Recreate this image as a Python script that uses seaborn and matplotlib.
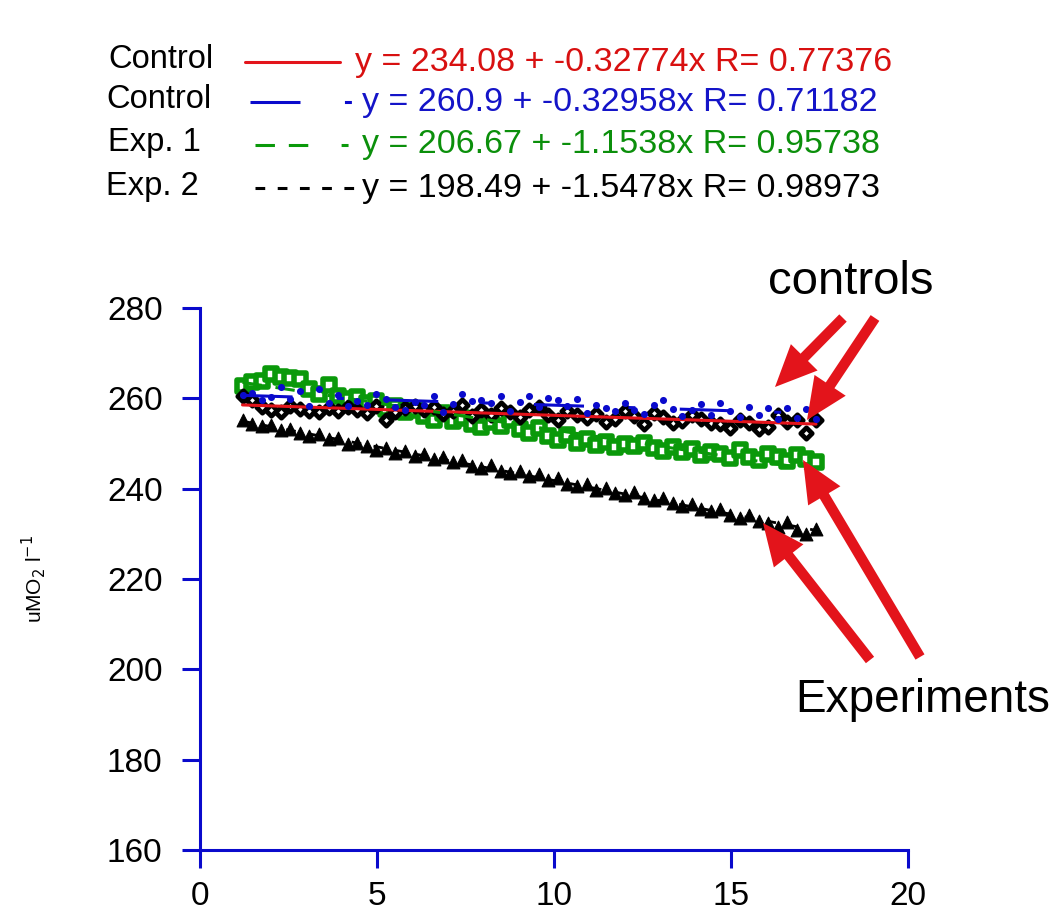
import matplotlib.pyplot as plt
import numpy as np
import pandas as pd
import seaborn as sns

# time points (x)
t = [1.20, 1.47, 1.74, 2.01, 2.28, 2.55, 2.82, 3.09, 3.36, 3.63,
     3.90, 4.17, 4.44, 4.71, 4.98, 5.25, 5.52, 5.79, 6.06, 6.33,
     6.60, 6.87, 7.14, 7.41, 7.68, 7.95, 8.22, 8.49, 8.76, 9.03,
     9.30, 9.57, 9.84, 10.11, 10.38, 10.65, 10.92, 11.19, 11.46, 11.73,
     12.00, 12.27, 12.54, 12.81, 13.08, 13.35, 13.62, 13.89, 14.16, 14.43,
     14.70, 14.97, 15.24, 15.51, 15.78, 16.05, 16.32, 16.59, 16.86, 17.13,
     17.40]

# Control (black diamonds, red fit)
control1 = [260.5, 259.6, 258.1, 257.3, 257.0, 258.2, 257.6, 257.1, 256.9, 257.8,
            257.2, 258.0, 257.3, 256.8, 258.4, 255.2, 256.9, 257.9, 258.3, 257.4,
            258.1, 256.6, 257.2, 258.6, 256.0, 257.5, 256.3, 257.8, 256.9, 255.8,
            257.4, 258.0, 256.2, 255.3, 257.1, 256.4, 255.7, 256.6, 254.8, 255.4,
            257.2, 256.1, 254.3, 256.8, 255.9, 254.5, 255.0, 256.3, 255.4, 254.6,
            254.2, 253.4, 255.1, 254.6, 253.1, 253.6, 256.2, 254.7, 255.2, 252.4,
            255.3]

# Control (blue dots, blue fit)
control2 = [260.7, 261.2, 259.6, 260.3, 262.5, 259.9, 261.7, 258.3, 262.1, 259.0,
            260.8, 258.2, 259.4, 258.6, 260.9, 259.8, 258.0, 257.4, 259.1, 258.5,
            260.4, 256.9, 258.7, 261.0, 259.4, 259.7, 258.9, 260.6, 257.2, 259.2,
            260.4, 258.1, 260.1, 259.6, 258.3, 259.9, 256.7, 258.6, 257.8, 257.1,
            258.9, 257.3, 256.5, 258.5, 259.7, 257.6, 256.0, 257.4, 258.8, 256.3,
            258.9, 257.1, 255.8, 258.0, 256.4, 257.8, 255.4, 257.9, 255.7, 257.6,
            255.5]

# Exp. 1 (green squares)
exp1 = [262.8, 263.5, 263.9, 265.3, 264.8, 264.6, 264.2, 262.1, 261.0, 262.9,
        260.5, 259.8, 260.3, 258.9, 259.4, 257.6, 258.2, 256.9, 257.4, 256.1,
        255.3, 256.8, 254.9, 255.7, 254.2, 253.6, 254.8, 253.9, 255.3, 253.1,
        252.4, 253.5, 251.6, 250.8, 251.9, 250.2, 250.9, 249.6, 250.3, 249.2,
        249.8, 249.4, 250.1, 248.9, 248.3, 249.2, 248.0, 248.7, 247.4, 248.2,
        247.6, 246.8, 248.6, 247.1, 246.3, 247.7, 246.9, 246.2, 247.4, 246.5,
        246.0]

# Exp. 2 (black triangles)
exp2 = [255.3, 254.2, 253.8, 254.0, 252.9, 253.1, 252.4, 251.6, 252.2, 250.9,
        251.3, 249.8, 250.2, 249.4, 248.6, 249.1, 247.9, 248.3, 247.2, 247.6,
        246.5, 246.9, 245.8, 246.3, 245.1, 244.6, 245.2, 244.0, 243.5, 243.9,
        242.8, 243.2, 241.9, 242.3, 241.0, 240.5, 241.1, 239.8, 240.2, 239.1,
        238.7, 239.3, 238.0, 237.4, 237.9, 236.8, 236.2, 236.7, 235.5, 235.0,
        235.4, 234.2, 233.6, 234.1, 232.9, 232.3, 231.5, 232.6, 230.8, 229.9,
        231.0]

legend_names = ['Control', 'Control', 'Exp. 1', 'Exp. 2']
legend_eqs = ['y = 234.08 + -0.32774x R= 0.77376',
              'y = 260.9 + -0.32958x R= 0.71182',
              'y = 206.67 + -1.1538x R= 0.95738',
              'y = 198.49 + -1.5478x R= 0.98973']

df = pd.DataFrame({'t': t, 'c1': control1, 'c2': control2, 'e1': exp1, 'e2': exp2})

sns.set_style('ticks')
plt.rcParams['font.family'] = ['Liberation Sans', 'DejaVu Sans']
plt.rcParams['lines.scale_dashes'] = False
plt.rcParams['text.color'] = 'black'
plt.rcParams['axes.labelcolor'] = 'black'

blue = '#0a0acc'
red = '#e3141b'
green = '#0a990a'
txt_colors = ['#d81010', '#1414c8', '#0b8f0b', 'black']

# dash patterns in points
ls_red = '-'
ls_blue = (0, (36, 32, 5, 32))
ls_green = (0, (14, 10, 14, 24, 5, 10))
ls_black = (0, (7, 9))
line_styles = [(red, ls_red), (blue, ls_blue), (green, ls_green), ('black', ls_black)]

fig = plt.figure(figsize=(10.55, 9.19), dpi=100)
ax = fig.add_axes([0.1896, 0.0751, 0.6711, 0.5898])

# markers
sns.scatterplot(data=df, x='t', y='e2', marker='^', s=85, color='black', edgecolor='black',
                linewidth=0.8, ax=ax, zorder=3)
sns.scatterplot(data=df, x='t', y='e1', marker='s', s=70, color='white', edgecolor=green,
                linewidth=4.0, ax=ax, zorder=3)
sns.scatterplot(data=df, x='t', y='c1', marker='D', s=34, color='white', edgecolor='black',
                linewidth=3.4, ax=ax, zorder=4)
sns.scatterplot(data=df, x='t', y='c2', marker='o', s=26, color=blue, edgecolor=blue,
                linewidth=0, ax=ax, zorder=6)

# fit lines
sns.regplot(data=df, x='t', y='c1', scatter=False, ci=None, truncate=True, ax=ax,
            line_kws=dict(color=red, lw=2.2, linestyle=ls_red, zorder=5))
sns.regplot(data=df, x='t', y='c2', scatter=False, ci=None, truncate=True, ax=ax,
            line_kws=dict(color=blue, lw=2.2, linestyle=ls_blue, zorder=5))
sns.regplot(data=df, x='t', y='e1', scatter=False, ci=None, truncate=True, ax=ax,
            line_kws=dict(color=green, lw=2.2, linestyle=ls_green, zorder=5))
sns.regplot(data=df, x='t', y='e2', scatter=False, ci=None, truncate=True, ax=ax,
            line_kws=dict(color='black', lw=2.0, linestyle=ls_black, zorder=5))

ax.set_xlim(0, 20)
ax.set_ylim(160, 280)
ax.set_xticks([0, 5, 10, 15, 20])
ax.set_yticks([160, 180, 200, 220, 240, 260, 280])
sns.despine(ax=ax)
for side in ['left', 'bottom']:
    ax.spines[side].set_color(blue)
    ax.spines[side].set_linewidth(2.2)
ax.tick_params(axis='both', length=13, width=2.2, color=blue, labelsize=24, labelcolor='black')
ax.tick_params(axis='y', pad=14)
ax.tick_params(axis='x', pad=9)
ax.set_xlabel('')
ax.set_ylabel(r'uMO$_2$ l$^{-1}$', fontsize=15, color='black')
ax.yaxis.set_label_coords(-0.215, 0.5)

# overlay in pixel coordinates for legend, arrows and notes
ov = fig.add_axes([0, 0, 1, 1], zorder=5)
ov.set_xlim(0, 1055)
ov.set_ylim(919, 0)
ov.axis('off')
ov.patch.set_alpha(0)

rows_y = [62, 102, 145, 188]
name_x = [108, 106, 108, 106]
eq_x = [355, 362, 362, 362]
line_x = [(245, 340), (250, 352), (255, 350), (255, 355)]
for i in range(4):
    ov.text(name_x[i], rows_y[i] - 2, legend_names[i], fontsize=23.5, va='center', ha='left',
            color='black')
    c, ls = line_styles[i]
    ov.plot(line_x[i], [rows_y[i], rows_y[i]], color=c, linestyle=ls, lw=2.2)
    ov.text(eq_x[i], rows_y[i], legend_eqs[i], fontsize=24.5, va='center', ha='left',
            color=txt_colors[i])

ov.text(768, 282, 'controls', fontsize=34, va='center', ha='left', color='black')
ov.text(795, 700, 'Experiments', fontsize=33, va='center', ha='left', color='black')

arrows = [((843, 318), (775, 387)), ((875, 318), (807, 420)),
          ((870, 660), (763, 523)), ((920, 657), (803, 460))]
for tail, tip in arrows:
    ov.annotate('', xy=tip, xytext=tail,
                arrowprops=dict(facecolor=red, edgecolor='none', width=7.5,
                                headwidth=27, headlength=30, shrink=0))

plt.savefig('out.png', dpi=100)
